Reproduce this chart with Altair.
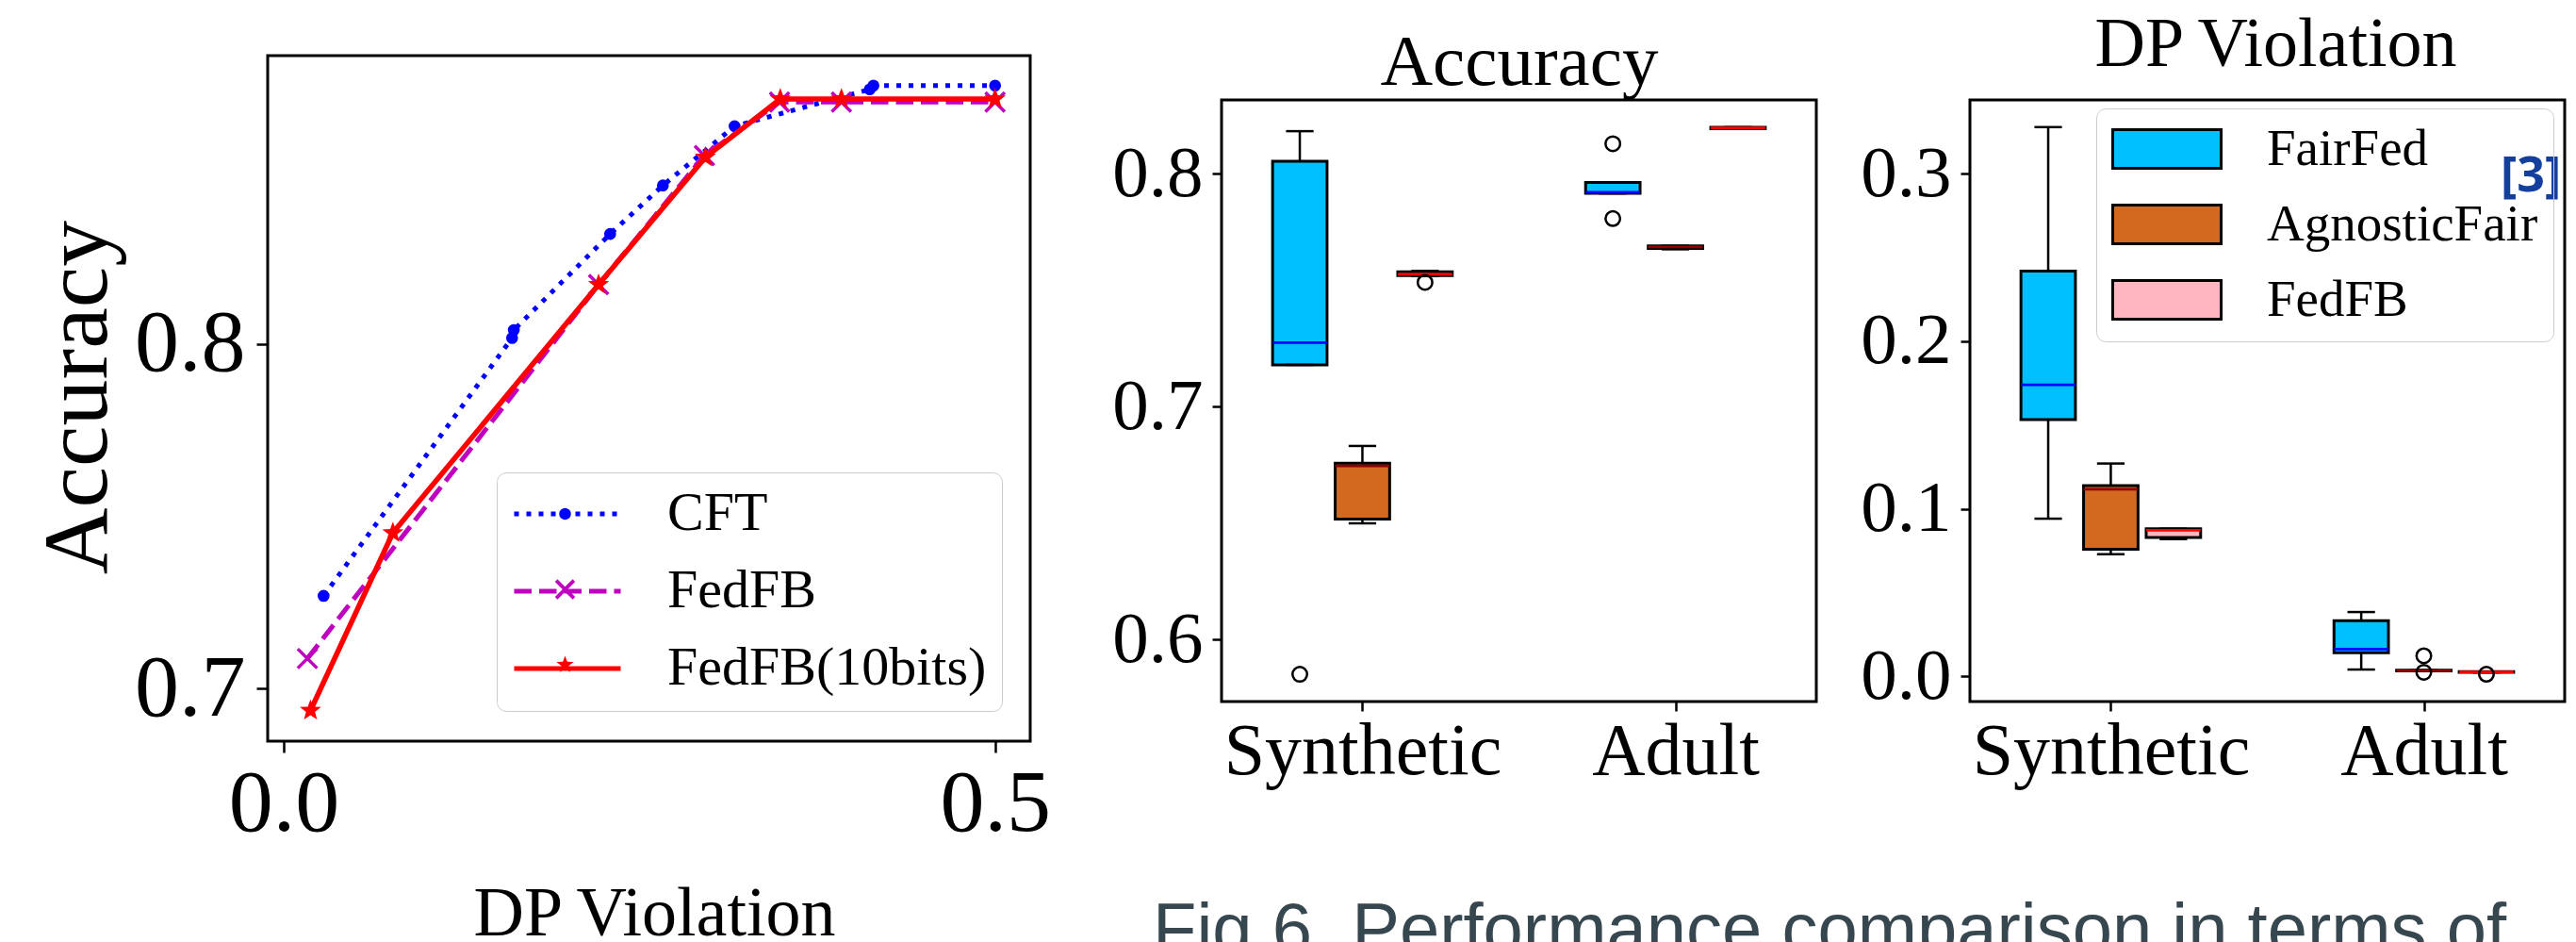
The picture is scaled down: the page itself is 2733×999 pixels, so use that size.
import math
import altair as alt
import pandas as pd

# ---------------- data: left panel (Accuracy vs DP Violation) ----------------
line_series = ["CFT", "FedFB", "FedFB(10bits)"]
cft_dp = [0.028, 0.1605, 0.1617, 0.2294, 0.2665, 0.3169, 0.4119, 0.4145, 0.5]
cft_acc = [0.7269, 0.8018, 0.8041, 0.8320, 0.8461, 0.8633, 0.8740, 0.8751, 0.8751]
fedfb_dp = [0.0166, 0.2213, 0.2957, 0.3485, 0.392, 0.5]
fedfb_acc = [0.7087, 0.8173, 0.8548, 0.8703, 0.8703, 0.8703]
fedfb10_dp = [0.0188, 0.0767, 0.2213, 0.2964, 0.349, 0.392, 0.5]
fedfb10_acc = [0.6936, 0.7452, 0.8173, 0.8543, 0.8712, 0.8712, 0.8712]

# ---------------- data: box plots ----------------
datasets = ["Synthetic", "Adult"]
methods = ["FairFed", "AgnosticFair", "FedFB"]
# box order: Synthetic(FairFed, AgnosticFair, FedFB), Adult(FairFed, AgnosticFair, FedFB)
acc_lo = [0.7179, 0.6499, 0.7560, 0.7915, 0.7675, 0.8193]
acc_q1 = [0.7179, 0.6517, 0.7562, 0.7915, 0.7679, 0.8193]
acc_med = [0.7274, 0.6745, 0.7568, 0.7920, 0.7685, 0.8196]
acc_q3 = [0.8053, 0.6757, 0.7578, 0.7962, 0.7690, 0.8199]
acc_hi = [0.8182, 0.6831, 0.7582, 0.7962, 0.7690, 0.8199]
acc_out = [[0.5851], [], [0.7533], [0.8128, 0.7807], [], []]

dp_lo = [0.0941, 0.0729, 0.0819, 0.0041, 0.0033, 0.0024]
dp_q1 = [0.1532, 0.0758, 0.0829, 0.0141, 0.0033, 0.0024]
dp_med = [0.1739, 0.1116, 0.0872, 0.0163, 0.0035, 0.0026]
dp_q3 = [0.2418, 0.1138, 0.0881, 0.0332, 0.0037, 0.0028]
dp_hi = [0.3277, 0.1270, 0.0881, 0.0384, 0.0037, 0.0028]
dp_out = [[], [], [], [], [0.0123, 0.0025], [0.0013]]

box_fill = ["#00bfff", "#d2691e", "#ffb6c1"]
median_col = ["#0000ff", "#8b0000", "#ff0000"]
line_col = ["#0000ff", "#bf00bf", "#ff0000"]

CAPTION = "Fig 6. Performance comparison in terms of"

SERIF = "Liberation Serif"
W, H = 2717, 1000


def poly(pts):
    return "M" + "L".join(f"{x:.4f},{y:.4f}" for x, y in pts) + "Z"


def star_path(r_out, r_in):
    pts = []
    for k in range(10):
        a = math.pi / 2 + k * math.pi / 5
        r = r_out if k % 2 == 0 else r_in
        pts.append((r * math.cos(a), -r * math.sin(a)))
    return poly(pts)


def circle_path(r, n=28):
    return poly([(r * math.cos(2 * math.pi * k / n), r * math.sin(2 * math.pi * k / n)) for k in range(n)])


def x_poly(L, w):
    parts = []
    a = math.sqrt(0.5)
    for ux, uy in [(a, a), (a, -a)]:
        vx, vy = -uy, ux
        parts.append(poly([(L * ux + w * vx, L * uy + w * vy), (L * ux - w * vx, L * uy - w * vy),
                           (-L * ux - w * vx, -L * uy - w * vy), (-L * ux + w * vx, -L * uy + w * vy)]))
    return "".join(parts)


X_PATH = "M-1,-1L1,1M-1,1L1,-1"
STAR = star_path(1, 0.42)
LEG_LINE = "M-1,0L1,0"
LEG_MARKERS = [circle_path(0.11), x_poly(0.235, 0.033), star_path(0.17, 0.07)]
RECT_PATH = "M-1,-0.357L1,-0.357L1,0.357L-1,0.357Z"

# ---------------- scales (pixel ranges place each panel) ----------------
X1 = [-0.0113, 0.5247]
Y1 = [0.6847, 0.8838]
X2 = [-2.25, 7.25]
Y2 = [0.5734, 0.8316]
X3 = [-2.25, 7.25]
Y3 = [-0.0150, 0.3439]
sx1 = alt.Scale(domain=X1, range=[276, 1085], nice=False, zero=False)
sy1 = alt.Scale(domain=Y1, range=[778, 51], nice=False, zero=False)
sx2 = alt.Scale(domain=X2, range=[1288, 1919], nice=False, zero=False)
sy2 = alt.Scale(domain=Y2, range=[736, 98], nice=False, zero=False)
sx3 = alt.Scale(domain=X3, range=[2082, 2713], nice=False, zero=False)
sy3 = alt.Scale(domain=Y3, range=[736, 98], nice=False, zero=False)


def axis(orient, offset, values, fs, tick, pad, **kw):
    return alt.Axis(orient=orient, offset=offset, values=values, domain=False, grid=False,
                    ticks=True, tickSize=tick, tickWidth=2.5, tickColor="black",
                    labelFont=SERIF, labelFontSize=fs, labelColor="black", labelPadding=pad,
                    labelFlush=False, labelOverlap=False, labelLimit=1000, titleFont=SERIF,
                    titleColor="black", titleFontWeight="normal", titleLimit=2000, **kw)


dummy = pd.DataFrame({"k": [0]})


def frame(xs, ys, xdom, ydom, xaxis=None, yaxis=None, visible=True):
    mk = (dict(fillOpacity=0, stroke="black", strokeWidth=3) if visible
          else dict(fillOpacity=0, strokeOpacity=0))
    return alt.Chart(dummy).mark_rect(**mk).encode(
        x=alt.XDatum(xdom[0], scale=xs, axis=xaxis), x2=alt.X2Datum(xdom[1]),
        y=alt.YDatum(ydom[0], scale=ys, axis=yaxis), y2=alt.Y2Datum(ydom[1]))


def top_axis(title, fs, ty, tx):
    return alt.Axis(orient="top", offset=-98, ticks=False, labels=False, domain=False, grid=False,
                    title=title, titleFont=SERIF, titleFontSize=fs, titleFontWeight="normal",
                    titleColor="black", titleBaseline="alphabetic", titleY=ty, titleX=tx,
                    titleAlign="center", titleLimit=2000)


# ---------------- panel 1 ----------------
p1_y_axis = axis("left", -276, [0.7, 0.8], 94, 12, 12, format=".1f", title="Accuracy",
                 titleFontSize=98, titleAngle=270, titleBaseline="alphabetic",
                 titleX=-172, titleY=413, titleAlign="center")
p1_x_axis = axis("bottom", 778 - H, [0.0, 0.5], 94, 12, 8, format=".1f", title="DP Violation",
                 titleFontSize=74, titleBaseline="alphabetic", titleX=686, titleY=205,
                 titleAlign="center")


def sdf(xs, ys):
    return pd.DataFrame({"dp": xs, "acc": ys})


ENC1 = dict(x=alt.X("dp:Q", scale=sx1, axis=None), y=alt.Y("acc:Q", scale=sy1, axis=None))

cft_line = alt.Chart(sdf(cft_dp, cft_acc)).mark_line(
    color=line_col[0], strokeWidth=5, strokeDash=[5, 8]).encode(**ENC1)
cft_pts = alt.Chart(sdf(cft_dp, cft_acc)).mark_point(
    shape="circle", filled=True, size=160, color=line_col[0], opacity=1).encode(**ENC1)
fb_line = alt.Chart(sdf(fedfb_dp, fedfb_acc)).mark_line(
    color=line_col[1], strokeWidth=5, strokeDash=[18.5, 8]).encode(**ENC1)
fb_pts = alt.Chart(sdf(fedfb_dp, fedfb_acc)).mark_point(
    shape=X_PATH, filled=False, size=420, strokeWidth=3.5, color=line_col[1], opacity=1).encode(**ENC1)
fb10_line = alt.Chart(sdf(fedfb10_dp, fedfb10_acc)).mark_line(
    color=line_col[2], strokeWidth=5.5).encode(**ENC1)
fb10_pts = alt.Chart(sdf(fedfb10_dp, fedfb10_acc)).mark_point(
    shape=STAR, filled=True, size=560, color=line_col[2], opacity=1).encode(**ENC1)
panel1 = alt.layer(cft_line, cft_pts, fb_line, fb_pts, fb10_line, fb10_pts)

frame1 = frame(sx1, sy1, X1, Y1, p1_x_axis, p1_y_axis)

LEG1_X, LEG1_Y, LEG1_ROW, LEG1_CLIP, LEG1_PAD = 519, 493, 24, 56, 16
LEG1_COMMON = dict(orient="none", legendX=LEG1_X, title=None, symbolSize=12769,
                   labelFont=SERIF, labelFontSize=58, labelColor="black", labelOffset=47,
                   labelLimit=1000, clipHeight=LEG1_CLIP, rowPadding=LEG1_ROW, padding=LEG1_PAD,
                   symbolOpacity=1)
legend1a = alt.Legend(symbolType=LEG_LINE, symbolStrokeWidth=5, legendY=LEG1_Y,
                      strokeColor="#cccccc", cornerRadius=10, **LEG1_COMMON)
leg_df = pd.DataFrame({"series": line_series})
leg1a = alt.Chart(leg_df).mark_point(opacity=0, filled=False, strokeWidth=5).encode(
    color=alt.Color("series:N", scale=alt.Scale(domain=line_series, range=line_col), legend=legend1a),
    strokeDash=alt.StrokeDash("series:N", scale=alt.Scale(domain=line_series,
                                                          range=[[5, 8], [18.5, 8], [1, 0]])),
)
# marker glyphs of the legend: one single-entry legend per series, in the same rows
leg1_markers = []
for i, name in enumerate(line_series):
    lg = alt.Legend(symbolType=LEG_MARKERS[i], symbolStrokeWidth=0, labelOpacity=0,
                    legendY=LEG1_Y + i * (LEG1_CLIP + LEG1_ROW), **LEG1_COMMON)
    leg1_markers.append(
        alt.Chart(pd.DataFrame({"series": [name]})).mark_rect(opacity=0).encode(
            fill=alt.Fill("series:N", scale=alt.Scale(domain=[name], range=[line_col[i]]),
                          legend=lg)))


# ---------------- box panels ----------------
def box_df(lo, q1, med, q3, hi):
    rows = []
    for d, ds in enumerate(datasets):
        for m, me in enumerate(methods):
            i = d * len(methods) + m
            rows.append(dict(dataset=ds, method=me, pos=d * 5 + m - 1, lo=lo[i], q1=q1[i],
                             med=med[i], q3=q3[i], hi=hi[i]))
    return pd.DataFrame(rows)


def out_df(outs):
    rows = []
    for d in range(len(datasets)):
        for m in range(len(methods)):
            for v in outs[d * len(methods) + m]:
                rows.append(dict(pos=d * 5 + m - 1, v=v))
    return pd.DataFrame(rows)


LABEL_EXPR = f"datum.value == 0 ? '{datasets[0]}' : '{datasets[1]}'"


def box_panel(df, odf, xs, ys, legend):
    base = alt.Chart(df).transform_calculate(
        bl="datum.pos - 0.435", br="datum.pos + 0.435",
        cl="datum.pos - 0.22", cr="datum.pos + 0.22")
    X = lambda f: alt.X(f, scale=xs, axis=None)
    Y = lambda f: alt.Y(f, scale=ys, axis=None)
    boxes = base.mark_rect(stroke="black", strokeWidth=3).encode(
        x=X("bl:Q"), x2="br:Q", y=Y("q1:Q"), y2="q3:Q",
        fill=alt.Fill("method:N", scale=alt.Scale(domain=methods, range=box_fill), legend=legend))
    rule = dict(color="black", strokeWidth=2.5)
    wh_hi = base.mark_rule(**rule).encode(x=X("pos:Q"), y=Y("q3:Q"), y2="hi:Q")
    wh_lo = base.mark_rule(**rule).encode(x=X("pos:Q"), y=Y("lo:Q"), y2="q1:Q")
    cap_hi = base.mark_rule(**rule).encode(x=X("cl:Q"), x2="cr:Q", y=Y("hi:Q"))
    cap_lo = base.mark_rule(**rule).encode(x=X("cl:Q"), x2="cr:Q", y=Y("lo:Q"))
    meds = [base.transform_filter(alt.datum.method == me).mark_rule(
        color=median_col[m], strokeWidth=2.7).encode(x=X("bl:Q"), x2="br:Q", y=Y("med:Q"))
        for m, me in enumerate(methods)]
    fliers = alt.Chart(odf).mark_point(shape="circle", filled=False, size=240, strokeWidth=2.5,
                                       color="black", opacity=1).encode(x=X("pos:Q"), y=Y("v:Q"))
    return alt.layer(boxes, wh_hi, wh_lo, cap_hi, cap_lo, *meds, fliers)


def box_axes(x_left, yvals):
    xa = axis("bottom", 736 - H, [0, 5], 78, 10, 4, labelExpr=LABEL_EXPR, title="")
    ya = axis("left", -x_left, yvals, 77, 10, 10, format=".1f", title="")
    return xa, ya


panel2 = box_panel(box_df(acc_lo, acc_q1, acc_med, acc_q3, acc_hi), out_df(acc_out), sx2, sy2, None)
xa2, ya2 = box_axes(1288, [0.6, 0.7, 0.8])
frame2 = frame(sx2, sy2, X2, Y2, xa2, ya2)
title2 = frame(sx2, sy2, X2, Y2, top_axis("Accuracy", 77, -17, 1603.5), None, visible=False)

legend3 = alt.Legend(orient="none", legendX=2216, legendY=107, title=None, symbolType=RECT_PATH,
                     symbolSize=13225, symbolStrokeColor="black", symbolStrokeWidth=3,
                     symbolOpacity=1, labelFont=SERIF, labelFontSize=55, labelColor="black",
                     labelOffset=47, labelLimit=1000, clipHeight=54, rowPadding=25, padding=16,
                     strokeColor="#cccccc", cornerRadius=10)
panel3 = box_panel(box_df(dp_lo, dp_q1, dp_med, dp_q3, dp_hi), out_df(dp_out), sx3, sy3, legend3)
xa3, ya3 = box_axes(2082, [0.0, 0.1, 0.2, 0.3])
frame3 = frame(sx3, sy3, X3, Y3, xa3, ya3)
title3 = frame(sx3, sy3, X3, Y3, top_axis("DP Violation", 74, -37, 2406), None, visible=False)

cite = alt.Chart(dummy).mark_text(text="[3]", font="Open Sans", fontWeight="bold", fontSize=52,
                                  color="#143f9c", align="left", baseline="alphabetic").encode(
    x=alt.value(2645), y=alt.value(195))
caption = alt.Chart(dummy).mark_text(text=CAPTION, font="Liberation Sans", fontSize=76,
                                     color="#37474f", align="left", baseline="alphabetic").encode(
    x=alt.value(1215), y=alt.value(1003))

chart = alt.layer(panel1, frame1, leg1a, *leg1_markers, panel2, frame2, title2, panel3, frame3,
                  title3, cite, caption).resolve_scale(
    x="independent", y="independent", color="independent", fill="independent",
    stroke="independent", shape="independent", strokeDash="independent"
).properties(width=W, height=H, padding=0, autosize=alt.AutoSizeParams(type="none")
).configure_view(strokeWidth=0)

chart.save("out.html", embed_options={"renderer": "svg", "actions": False})
